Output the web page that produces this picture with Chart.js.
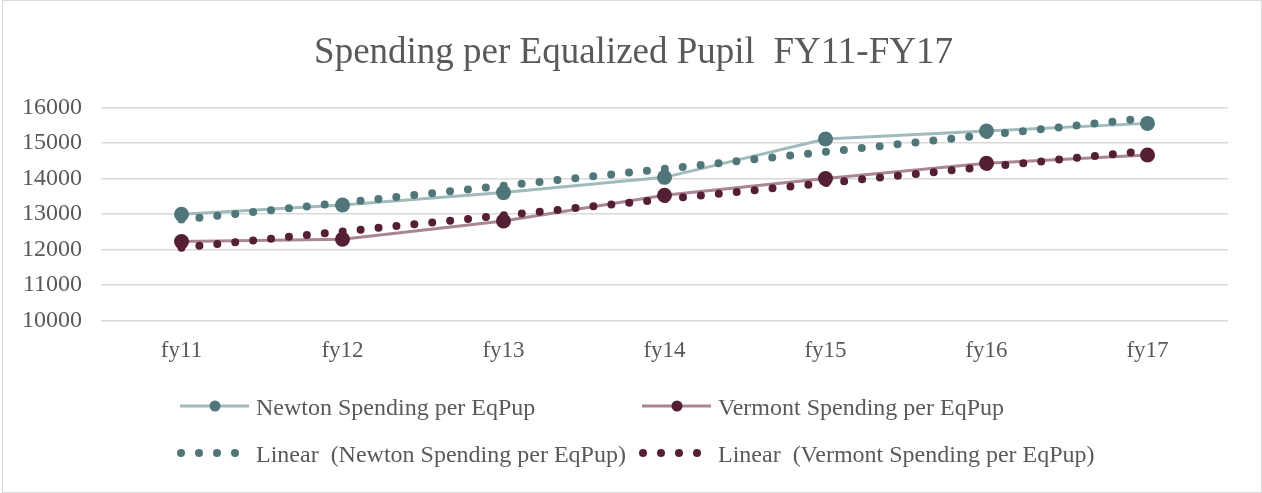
<!DOCTYPE html>
<html>
<head>
<meta charset="utf-8">
<title>Spending per Equalized Pupil FY11-FY17</title>
<script src="https://cdn.jsdelivr.net/npm/chart.js@4/dist/chart.umd.min.js"></script>
<style>
  html, body { margin: 0; padding: 0; background: #fff; }
  #wrap { width: 1262px; height: 493px; }
</style>
</head>
<body>
<div id="wrap"><canvas id="chart" width="1262" height="493"></canvas></div>
<script>
const YEARS = ['fy11', 'fy12', 'fy13', 'fy14', 'fy15', 'fy16', 'fy17'];
const NEWTON = [12990, 13250, 13600, 14030, 15110, 15335, 15550];
const VERMONT = [12220, 12285, 12800, 13525, 13995, 14425, 14660];
// trendline ends (first and last year)
const NEWTON_TREND = [12840, null, null, null, null, null, 15700];
const VERMONT_TREND = [12050, null, null, null, null, null, 14780];
const Y_MIN = 10000;
const Y_MAX = 16000;
const Y_STEP = 1000;

const TEXT = '#595959';
const SERIF = "'Liberation Serif', 'Times New Roman', serif";
const NEWTON_DARK = 'rgb(80, 118, 121)';
const NEWTON_LINE = 'rgb(160, 187, 187)';
const VERMONT_DARK = 'rgb(84, 31, 52)';
const VERMONT_LINE = 'rgb(169, 134, 145)';

// border round the whole chart
const frame = {
    id: 'frame',
    beforeDraw(chart) {
        const ctx = chart.ctx;
        ctx.save();
        ctx.fillStyle = '#fff';
        ctx.fillRect(0, 0, chart.width, chart.height);
        ctx.strokeStyle = '#d9d9d9';
        ctx.lineWidth = 1;
        ctx.strokeRect(2.5, 0.5, chart.width - 3, chart.height - 1);
        ctx.restore();
    }
};

// 2 x 2 legend below the plot, like the Excel one
const gridLegend = {
    id: 'gridLegend',
    afterDraw(chart) {
        const ctx = chart.ctx;
        const cols = [180, 642];
        const rows = [406, 453];
        chart.data.datasets.forEach((ds, i) => {
            const x = cols[i % 2];
            const y = rows[Math.floor(i / 2)];
            ctx.save();
            if (ds.isTrend) {
                ctx.fillStyle = ds.borderColor;
                for (let k = 0; k < 4; k++) {
                    ctx.beginPath();
                    ctx.arc(x + 1 + k * 18, y, 4, 0, Math.PI * 2);
                    ctx.fill();
                }
            } else {
                ctx.strokeStyle = ds.borderColor;
                ctx.lineWidth = 3;
                ctx.beginPath();
                ctx.moveTo(x, y);
                ctx.lineTo(x + 69, y);
                ctx.stroke();
                ctx.fillStyle = ds.pointBackgroundColor;
                ctx.beginPath();
                ctx.arc(x + 35, y, 5.5, 0, Math.PI * 2);
                ctx.fill();
            }
            ctx.fillStyle = TEXT;
            ctx.font = '24px ' + SERIF;
            ctx.textBaseline = 'alphabetic';
            ctx.fillText(ds.label, x + 76, y + 9);
            ctx.restore();
        });
    }
};

new Chart(document.getElementById('chart'), {
    type: 'line',
    data: {
        labels: YEARS,
        datasets: [{
            label: 'Newton Spending per EqPup',
            data: NEWTON,
            borderColor: NEWTON_LINE,
            borderWidth: 3,
            pointBackgroundColor: NEWTON_DARK,
            pointBorderColor: NEWTON_DARK,
            pointRadius: 7.5,
            pointBorderWidth: 0,
            order: 1
        }, {
            label: 'Vermont Spending per EqPup',
            data: VERMONT,
            borderColor: VERMONT_LINE,
            borderWidth: 3,
            pointBackgroundColor: VERMONT_DARK,
            pointBorderColor: VERMONT_DARK,
            pointRadius: 7.5,
            pointBorderWidth: 0,
            order: 1
        }, {
            label: 'Linear  (Newton Spending per EqPup)',
            data: NEWTON_TREND,
            isTrend: true,
            borderColor: NEWTON_DARK,
            borderWidth: 8,
            borderDash: [0, 18],
            borderCapStyle: 'round',
            spanGaps: true,
            pointRadius: 0,
            order: 0
        }, {
            label: 'Linear  (Vermont Spending per EqPup)',
            data: VERMONT_TREND,
            isTrend: true,
            borderColor: VERMONT_DARK,
            borderWidth: 8,
            borderDash: [0, 18],
            borderCapStyle: 'round',
            spanGaps: true,
            pointRadius: 0,
            order: 0
        }]
    },
    options: {
        responsive: false,
        animation: false,
        devicePixelRatio: 1,
        layout: {
            padding: {left: 22, right: 17, top: 0, bottom: 111}
        },
        plugins: {
            legend: {display: false},
            tooltip: {enabled: false},
            title: {
                display: true,
                text: 'Spending per Equalized Pupil  FY11-FY17',
                color: TEXT,
                font: {family: SERIF, size: 37, weight: 'normal'},
                padding: {top: 31, bottom: 32}
            }
        },
        scales: {
            x: {
                offset: true,
                grid: {display: false, drawTicks: false},
                border: {display: false},
                ticks: {
                    color: TEXT,
                    font: {family: SERIF, size: 23},
                    padding: 17
                }
            },
            y: {
                min: Y_MIN,
                max: Y_MAX,
                afterFit: scale => { scale.width = 79; },
                grid: {color: '#d9d9d9', lineWidth: 1.5, drawTicks: false},
                border: {display: false},
                ticks: {
                    stepSize: Y_STEP,
                    autoSkip: false,
                    color: TEXT,
                    font: {family: SERIF, size: 24},
                    padding: 19,
                    callback: v => String(v)
                }
            },
            // empty right margin, keeps the title centred like the original
            rightGap: {
                position: 'right',
                afterFit: scale => { scale.width = 17; },
                grid: {display: false, drawTicks: false},
                border: {display: false},
                ticks: {display: false}
            }
        }
    },
    plugins: [frame, gridLegend]
});
</script>
</body>
</html>
